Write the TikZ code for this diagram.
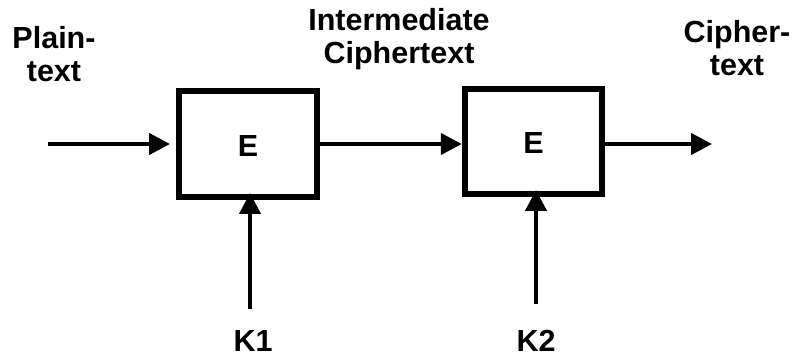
\documentclass[tikz,border=0pt]{standalone}
\usepackage{fontspec}
\setmainfont{Liberation Sans}
\usetikzlibrary{arrows.meta}
\begin{document}
\begin{tikzpicture}[x=1pt,y=-1pt,
  box/.style={draw,line width=6pt,inner sep=0pt},
  lbl/.style={font=\fontsize{30.5}{33}\selectfont\bfseries,align=center,inner sep=0pt},
  arr/.style={line width=4.2pt,-{Triangle[length=21pt,width=21pt]}}]
\useasboundingbox (0,0) rectangle (798,358);
\node[box,minimum width=138pt,minimum height=106pt] (b1) at (248,144) {};
\node[box,minimum width=137pt,minimum height=105pt] (b2) at (533.3,141.5) {};
\node[lbl] (e1) at (248,146) {E};
\node[lbl] (e2) at (533.5,143) {E};
\node[lbl] (pt) at (54,54) {Plain-\\text};
\node[lbl] (ic) at (399,39) {Intermediate\\Ciphertext};
\node[lbl] (ct) at (737,48) {Cipher-\\text};
\node[lbl] (k1) at (253,341.5) {K1};
\node[lbl] (k2) at (536,341) {K2};
\coordinate (in) at (48,144);
\coordinate (out) at (712,144);
\coordinate (k1s) at (250,309);
\coordinate (k2s) at (536,304);
\draw[arr,shorten >=6pt] (in) -- (b1.west);
\draw[arr] (b1.east) -- (b1.east -| b2.west);
\draw[arr] (b2.east |- out) -- (out);
\draw[arr,shorten >=-7pt] (k1s) -- (k1s |- b1.south);
\draw[arr,shorten >=-7pt] (k2s) -- (k2s |- b2.south);
\end{tikzpicture}
\end{document}
